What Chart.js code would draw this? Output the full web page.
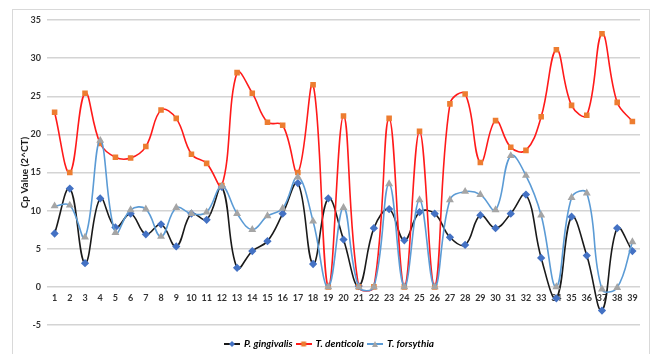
<!DOCTYPE html>
<html>
<head>
<meta charset="utf-8">
<script src="https://cdn.jsdelivr.net/npm/chart.js@4"></script>
<style>
  body { margin: 0; background: #fff; }
  #frame { position: absolute; left: 12px; top: 9px; width: 636px; height: 350px; border: 1px solid #d9d9d9; }
  #wrap { position: absolute; left: 0; top: 0; width: 651px; height: 354px; }
</style>
</head>
<body>
<div id="frame"></div>
<div id="wrap"><canvas id="cpChart" width="651" height="354"></canvas></div>
<script>
const categories = ['1','2','3','4','5','6','7','8','9','10','11','12','13','14','15','16','17','18','19','20',
    '21','22','23','24','25','26','27','28','29','30','31','32','33','34','35','36','37','38','39'];

const gingivalis = [7.0, 12.9, 3.1, 11.6, 7.8, 9.6, 6.9, 8.2, 5.3, 9.6, 8.8, 13.1, 2.5, 4.7, 6.0, 9.6, 13.6, 3.0, 11.6, 6.2,
    0.1, 7.7, 10.2, 6.1, 9.8, 9.6, 6.5, 5.5, 9.4, 7.7, 9.6, 12.1, 3.8, -1.5, 9.2, 4.1, -3.1, 7.7, 4.7];

const denticola = [22.9, 15.0, 25.4, 18.8, 17.0, 16.9, 18.4, 23.2, 22.1, 17.4, 16.2, 13.3, 28.1, 25.4, 21.6, 21.2, 15.0, 26.5, 0, 22.4,
    0, 0, 22.1, 0, 20.4, 0, 24.0, 25.3, 16.3, 21.8, 18.3, 17.9, 22.3, 31.1, 23.8, 22.5, 33.2, 24.2, 21.7];

const forsythia = [10.6, 10.7, 6.5, 19.2, 7.1, 10.1, 10.2, 6.6, 10.4, 9.6, 9.8, 13.2, 9.6, 7.5, 9.3, 10.3, 14.4, 8.6, 0, 10.4,
    0, 0, 13.5, 0, 11.4, 0, 11.4, 12.5, 12.1, 10.1, 17.2, 14.6, 9.4, 0, 11.7, 12.3, -0.3, -0.1, 5.9];

const seriesNames = ['P. gingivalis', 'T. denticola', 'T. forsythia'];

function legendIcon(lineColor, shape, markerColor) {
    const c = document.createElement('canvas');
    c.width = 16;
    c.height = 8;
    const g = c.getContext('2d');
    g.strokeStyle = lineColor;
    g.lineWidth = 2;
    g.beginPath();
    g.moveTo(0, 4);
    g.lineTo(16, 4);
    g.stroke();
    g.fillStyle = markerColor;
    g.beginPath();
    if (shape === 'rectRot') {
        g.moveTo(8, 1); g.lineTo(11, 4); g.lineTo(8, 7); g.lineTo(5, 4);
    } else if (shape === 'rect') {
        g.rect(5.5, 1.5, 5, 5);
    } else {
        g.moveTo(8, 1); g.lineTo(11, 7); g.lineTo(5, 7);
    }
    g.closePath();
    g.fill();
    return c;
}

const icons = [
    legendIcon('#1a1a1a', 'rectRot', '#4472c4'),
    legendIcon('#ff1a1a', 'rect', '#ed7d31'),
    legendIcon('#5b9bd5', 'triangle', '#a5a5a5')
];

// nudge the legend down to the bottom strip, like the original
const legendShift = {
    id: 'legendShift',
    afterLayout(chart) {
        const lg = chart.legend;
        const dy = 335 - lg.top;
        lg.top += dy;
        lg.bottom += dy;
    }
};

const ctx = document.getElementById('cpChart').getContext('2d');
new Chart(ctx, {
    type: 'line',
    data: {
        labels: categories,
        datasets: [{
            label: seriesNames[0],
            data: gingivalis,
            borderColor: '#1a1a1a',
            borderWidth: 1.6,
            pointStyle: 'rectRot',
            pointRadius: 3,
            pointBackgroundColor: '#4472c4',
            pointBorderColor: '#4472c4',
            tension: 0.4,
            order: 3
        }, {
            label: seriesNames[1],
            data: denticola,
            borderColor: '#ff1a1a',
            borderWidth: 1.6,
            pointStyle: 'rect',
            pointRadius: 2.8,
            pointBackgroundColor: '#ed7d31',
            pointBorderColor: '#ed7d31',
            tension: 0.4,
            order: 2
        }, {
            label: seriesNames[2],
            data: forsythia,
            borderColor: '#5b9bd5',
            borderWidth: 1.6,
            pointStyle: 'triangle',
            pointRadius: 3,
            pointBackgroundColor: '#a5a5a5',
            pointBorderColor: '#a5a5a5',
            tension: 0.4,
            order: 1
        }]
    },
    options: {
        responsive: false,
        animation: false,
        layout: { padding: { left: 19, right: 11, top: 20, bottom: 5 } },
        plugins: {
            tooltip: { enabled: false },
            legend: {
                position: 'bottom',
                labels: {
                    usePointStyle: true,
                    pointStyleWidth: 14,
                    padding: 4,
                    color: '#1a1a1a',
                    font: { family: 'Lato', size: 10, style: 'italic', weight: 'bold' },
                    generateLabels: chart => chart.data.datasets.map((ds, i) => ({
                        text: ds.label,
                        pointStyle: icons[i],
                        datasetIndex: i,
                        fillStyle: ds.borderColor,
                        strokeStyle: ds.borderColor,
                        lineWidth: 0
                    }))
                }
            }
        },
        scales: {
            x: {
                position: { y: 0 },
                offset: true,
                grid: { display: false, drawTicks: false },
                border: { display: false },
                ticks: {
                    autoSkip: false,
                    maxRotation: 0,
                    padding: 6,
                    color: '#333',
                    font: { family: 'Lato', size: 9, weight: 'bold' }
                }
            },
            y: {
                min: -5,
                max: 35,
                afterFit: scale => { scale.width = 28; },
                grid: { color: '#d4d4d4', lineWidth: 1.5, drawTicks: false },
                border: { display: false },
                ticks: {
                    stepSize: 5,
                    padding: 6,
                    color: '#333',
                    font: { family: 'Lato', size: 9, weight: 'bold' }
                },
                title: {
                    display: true,
                    text: 'Cp Value (2^CT)',
                    color: '#1a1a1a',
                    padding: 0,
                    font: { family: 'Lato', size: 10, weight: 'bold' }
                }
            }
        }
    },
    plugins: [legendShift]
});
</script>
</body>
</html>
